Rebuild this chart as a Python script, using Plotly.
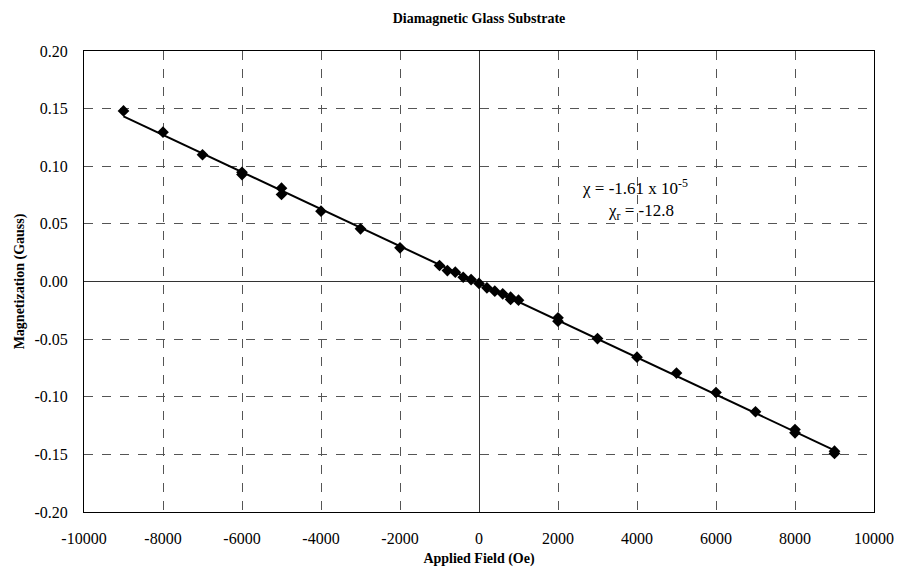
import numpy as np
import plotly.graph_objects as go

# Applied field (Oe) and measured magnetization (Gauss)
field = [-9000, -8000, -7000, -6000, -6000, -5000, -5000, -4000, -3000, -2000,
         -1000, -800, -600, -400, -200, 0, 200, 400, 600, 800, 800, 1000,
         2000, 2000, 3000, 4000, 5000, 6000, 7000, 8000, 8000, 9000, 9000]
magnetization = [0.148, 0.1296, 0.110, 0.0948, 0.0928, 0.081, 0.0755, 0.061, 0.0457, 0.0292,
                 0.0139, 0.0095, 0.0081, 0.0037, 0.0017, -0.0017, -0.0055, -0.0084, -0.0107, -0.0156, -0.0136, -0.0162,
                 -0.0315, -0.0345, -0.0495, -0.0657, -0.0795, -0.0963, -0.113, -0.1284, -0.1313, -0.1472, -0.1492]

x_ticks = [-10000, -8000, -6000, -4000, -2000, 0, 2000, 4000, 6000, 8000, 10000]
y_ticks = [0.20, 0.15, 0.10, 0.05, 0.00, -0.05, -0.10, -0.15, -0.20]

slope, intercept = np.polyfit(field, magnetization, 1)
fit_x = np.array([min(field), max(field)])
fit_y = slope * fit_x + intercept

serif = "Liberation Serif"

fig = go.Figure()
fig.add_trace(go.Scatter(x=fit_x, y=fit_y, mode="lines",
                         line=dict(color="black", width=2), showlegend=False))
fig.add_trace(go.Scatter(x=field, y=magnetization, mode="markers",
                         marker=dict(symbol="diamond", size=9, color="black"),
                         showlegend=False))

fig.update_layout(
    width=899, height=567,
    margin=dict(l=84, r=25, t=51, b=55),
    paper_bgcolor="white", plot_bgcolor="white",
    font=dict(family=serif, color="black", size=16),
    title=dict(text="<b>Diamagnetic Glass Substrate</b>", xref="paper", x=0.5, xanchor="center",
               y=1 - 18 / 567, yanchor="middle", font=dict(family=serif, size=14, color="black")),
    annotations=[
        dict(x=3950, y=0.0824, xref="x", yref="y", showarrow=False,
             text="χ = -1.61 x 10<sup>-5</sup>", font=dict(family=serif, size=17, color="black"),
             xanchor="center", yanchor="middle"),
        dict(x=4100, y=0.0607, xref="x", yref="y", showarrow=False,
             text="χ<sub>r</sub> = -12.8", font=dict(family=serif, size=17, color="black"),
             xanchor="center", yanchor="middle"),
    ],
)
fig.update_xaxes(
    range=[-10000, 10000], tickvals=x_ticks, ticktext=[str(v) for v in x_ticks],
    tickfont=dict(family=serif, size=16, color="black"),
    showgrid=True, gridcolor="#555", griddash="dash", gridwidth=1,
    zeroline=True, zerolinecolor="#333", zerolinewidth=1,
    showline=True, linecolor="black", linewidth=1, mirror=True,
    ticks="", ticklabelstandoff=12, automargin=False,
    title=dict(text="<b>Applied Field (Oe)</b>", font=dict(family=serif, size=14, color="black"), standoff=10),
)
fig.update_yaxes(
    range=[-0.20, 0.20], tickvals=y_ticks, ticktext=[f"{v:.2f}" for v in y_ticks],
    tickfont=dict(family=serif, size=16, color="black"),
    showgrid=True, gridcolor="#555", griddash="dash", gridwidth=1,
    zeroline=True, zerolinecolor="#333", zerolinewidth=1,
    showline=True, linecolor="black", linewidth=1, mirror=True,
    ticks="", ticklabelstandoff=12, automargin=False,
    title=dict(text="<b>Magnetization (Gauss)</b>", font=dict(family=serif, size=14, color="black"), standoff=6),
)

fig.write_html("out.html", config={"displayModeBar": False},
               post_script="document.body.style.margin='0';document.body.style.overflow='hidden';")
